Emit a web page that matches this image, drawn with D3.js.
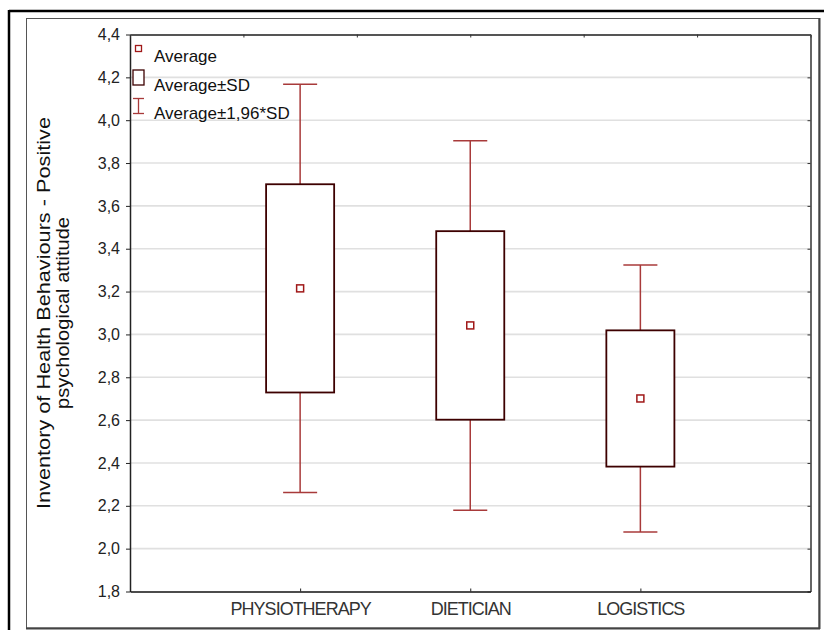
<!DOCTYPE html>
<html>
<head>
<meta charset="utf-8">
<script src="https://cdn.jsdelivr.net/npm/d3@7"></script>
<style>
  html, body { margin: 0; padding: 0; background: #fff; }
  svg { display: block; font-family: "Liberation Sans", Arial, sans-serif; }
</style>
</head>
<body>
<svg id="chart" width="824" height="630"></svg>
<script>
// Study groups and their score statistics
const categories = ["PHYSIOTHERAPY", "DIETICIAN", "LOGISTICS"];
const means = [3.215, 3.042, 2.701];
const sds = [0.486, 0.440, 0.318];
const sdFactor = 1.96;

// Value axis ticks and legend entries
const yTicks = [1.8, 2.0, 2.2, 2.4, 2.6, 2.8, 3.0, 3.2, 3.4, 3.6, 3.8, 4.0, 4.2, 4.4];
const legendLabels = ["Average", "Average±SD", "Average±1,96*SD"];
const yTitleLines = ["Inventory of Health Behaviours - Positive", "psychological attitude"];
const yTitleLengths = [392, 192];

const whiskerColor = "#a83a3a";
const boxColor = "#3d0000";
const meanColor = "#a01818";

const svg = d3.select("#chart");
const plot = { left: 130, right: 810.5, top: 34.5, bottom: 591.5 };

const y = d3.scaleLinear().domain([1.8, 4.4]).range([plot.bottom, plot.top]);
const x = d3.scalePoint().domain(categories).range([plot.left, plot.right]).padding(1);
const step = x.step();
const boxW = step * 0.4;
const capW = step * 0.2;
const fmt = d => d3.format(".1f")(d).replace(".", ",");

const data = categories.map((c, i) => ({
  cat: c,
  mean: means[i],
  lo1: means[i] - sds[i],
  hi1: means[i] + sds[i],
  lo2: means[i] - sdFactor * sds[i],
  hi2: means[i] + sdFactor * sds[i]
}));

// Outer frames
svg.append("line").attr("x1", 9).attr("x2", 824).attr("y1", 11).attr("y2", 11)
  .attr("stroke", "#000").attr("stroke-width", 2.5);
svg.append("line").attr("x1", 9).attr("x2", 9).attr("y1", 10).attr("y2", 630)
  .attr("stroke", "#000").attr("stroke-width", 2.5);
svg.append("rect").attr("x", 26.5).attr("y", 18.5).attr("width", 792.5).attr("height", 609.5)
  .attr("fill", "none").attr("stroke", "#555").attr("stroke-width", 1);
svg.append("line").attr("x1", 26).attr("x2", 820).attr("y1", 628.5).attr("y2", 628.5)
  .attr("stroke", "#444").attr("stroke-width", 2);
svg.append("line").attr("x1", 819.5).attr("x2", 819.5).attr("y1", 18).attr("y2", 629)
  .attr("stroke", "#444").attr("stroke-width", 2);

// Horizontal grid
svg.append("g")
  .selectAll("line")
  .data(yTicks.filter(t => t > 1.8 && t < 4.4))
  .join("line")
  .attr("x1", plot.left).attr("x2", plot.right)
  .attr("y1", d => y(d)).attr("y2", d => y(d))
  .attr("stroke", "#e0e0e0").attr("stroke-width", 1.6);

// Axes
const gLeft = svg.append("g").attr("transform", `translate(${plot.left},0)`)
  .call(d3.axisLeft(y).tickValues(yTicks).tickFormat(fmt).tickSizeInner(4).tickSizeOuter(0).tickPadding(6));
gLeft.select(".domain").attr("stroke", "#222").attr("stroke-width", 1.5);
gLeft.selectAll(".tick line").attr("stroke", "#222");
gLeft.selectAll(".tick text").attr("font-size", 16).attr("fill", "#222")
  .attr("font-family", "Liberation Sans, Arial, sans-serif");

const gRight = svg.append("g").attr("transform", `translate(${plot.right},0)`)
  .call(d3.axisRight(y).tickValues(yTicks).tickFormat("").tickSizeInner(-3).tickSizeOuter(0));
gRight.select(".domain").attr("stroke", "#333").attr("stroke-width", 1.5);
gRight.selectAll(".tick line").attr("stroke", "#333");

const topScale = d3.scaleLinear().domain([0, 6]).range([plot.left, plot.right]);
const gTop = svg.append("g").attr("transform", `translate(0,${plot.top})`)
  .call(d3.axisTop(topScale).ticks(6).tickFormat("").tickSizeInner(-3).tickSizeOuter(0));
gTop.select(".domain").attr("stroke", "#555").attr("stroke-width", 2);
gTop.selectAll(".tick line").attr("stroke", "#333");

const gBottom = svg.append("g").attr("transform", `translate(0,${plot.bottom})`)
  .call(d3.axisBottom(x).tickSizeInner(-3).tickSizeOuter(0).tickPadding(11));
gBottom.select(".domain").attr("stroke", "#111").attr("stroke-width", 1.5);
gBottom.selectAll(".tick line").attr("stroke", "#222");
gBottom.selectAll(".tick text").attr("font-size", 18).attr("fill", "#333")
  .attr("letter-spacing", "-1px")
  .attr("font-family", "Liberation Sans, Arial, sans-serif");

// Y axis title (two lines, rotated)
const titleG = svg.append("g")
  .attr("transform", `translate(0,${(plot.top + plot.bottom) / 2}) rotate(-90)`);
titleG.selectAll("text")
  .data(yTitleLines)
  .join("text")
  .attr("x", 0)
  .attr("y", (d, i) => 50 + i * 19)
  .attr("text-anchor", "middle")
  .attr("font-size", 18)
  .attr("textLength", (d, i) => yTitleLengths[i])
  .attr("lengthAdjust", "spacingAndGlyphs")
  .attr("fill", "#111")
  .text(d => d);

// Whiskers (mean ± 1.96 SD)
const groups = svg.append("g").selectAll("g").data(data).join("g");
groups.append("line")
  .attr("x1", d => x(d.cat)).attr("x2", d => x(d.cat))
  .attr("y1", d => y(d.hi2)).attr("y2", d => y(d.lo2))
  .attr("stroke", whiskerColor).attr("stroke-width", 1.5);
groups.append("line")
  .attr("x1", d => x(d.cat) - capW / 2).attr("x2", d => x(d.cat) + capW / 2)
  .attr("y1", d => y(d.hi2)).attr("y2", d => y(d.hi2))
  .attr("stroke", whiskerColor).attr("stroke-width", 1.5);
groups.append("line")
  .attr("x1", d => x(d.cat) - capW / 2).attr("x2", d => x(d.cat) + capW / 2)
  .attr("y1", d => y(d.lo2)).attr("y2", d => y(d.lo2))
  .attr("stroke", whiskerColor).attr("stroke-width", 1.5);

// Boxes (mean ± SD)
groups.append("rect")
  .attr("x", d => x(d.cat) - boxW / 2)
  .attr("y", d => y(d.hi1))
  .attr("width", boxW)
  .attr("height", d => y(d.lo1) - y(d.hi1))
  .attr("fill", "#fff").attr("stroke", boxColor).attr("stroke-width", 1.8);

// Mean markers
groups.append("rect")
  .attr("x", d => x(d.cat) - 3.5).attr("y", d => y(d.mean) - 3.5)
  .attr("width", 7).attr("height", 7)
  .attr("fill", "#fff").attr("stroke", meanColor).attr("stroke-width", 1.5);

// Legend
const legend = svg.append("g");
const lx = 138.5;
legend.append("rect").attr("x", lx - 3).attr("y", 45.5).attr("width", 6).attr("height", 6)
  .attr("fill", "#fff").attr("stroke", meanColor).attr("stroke-width", 1.3);
legend.append("rect").attr("x", lx - 5.5).attr("y", 70).attr("width", 11).attr("height", 15)
  .attr("fill", "#fff").attr("stroke", boxColor).attr("stroke-width", 1.3);
legend.append("line").attr("x1", lx).attr("x2", lx).attr("y1", 98.5).attr("y2", 113.5)
  .attr("stroke", whiskerColor).attr("stroke-width", 1.3);
[98.5, 113.5].forEach(v => legend.append("line")
  .attr("x1", lx - 5.5).attr("x2", lx + 5.5).attr("y1", v).attr("y2", v)
  .attr("stroke", whiskerColor).attr("stroke-width", 1.3));
legend.selectAll("text")
  .data(legendLabels)
  .join("text")
  .attr("x", 154)
  .attr("y", (d, i) => 62 + i * 28.5)
  .attr("font-size", 17)
  .attr("fill", "#111")
  .text(d => d);
</script>
</body>
</html>
